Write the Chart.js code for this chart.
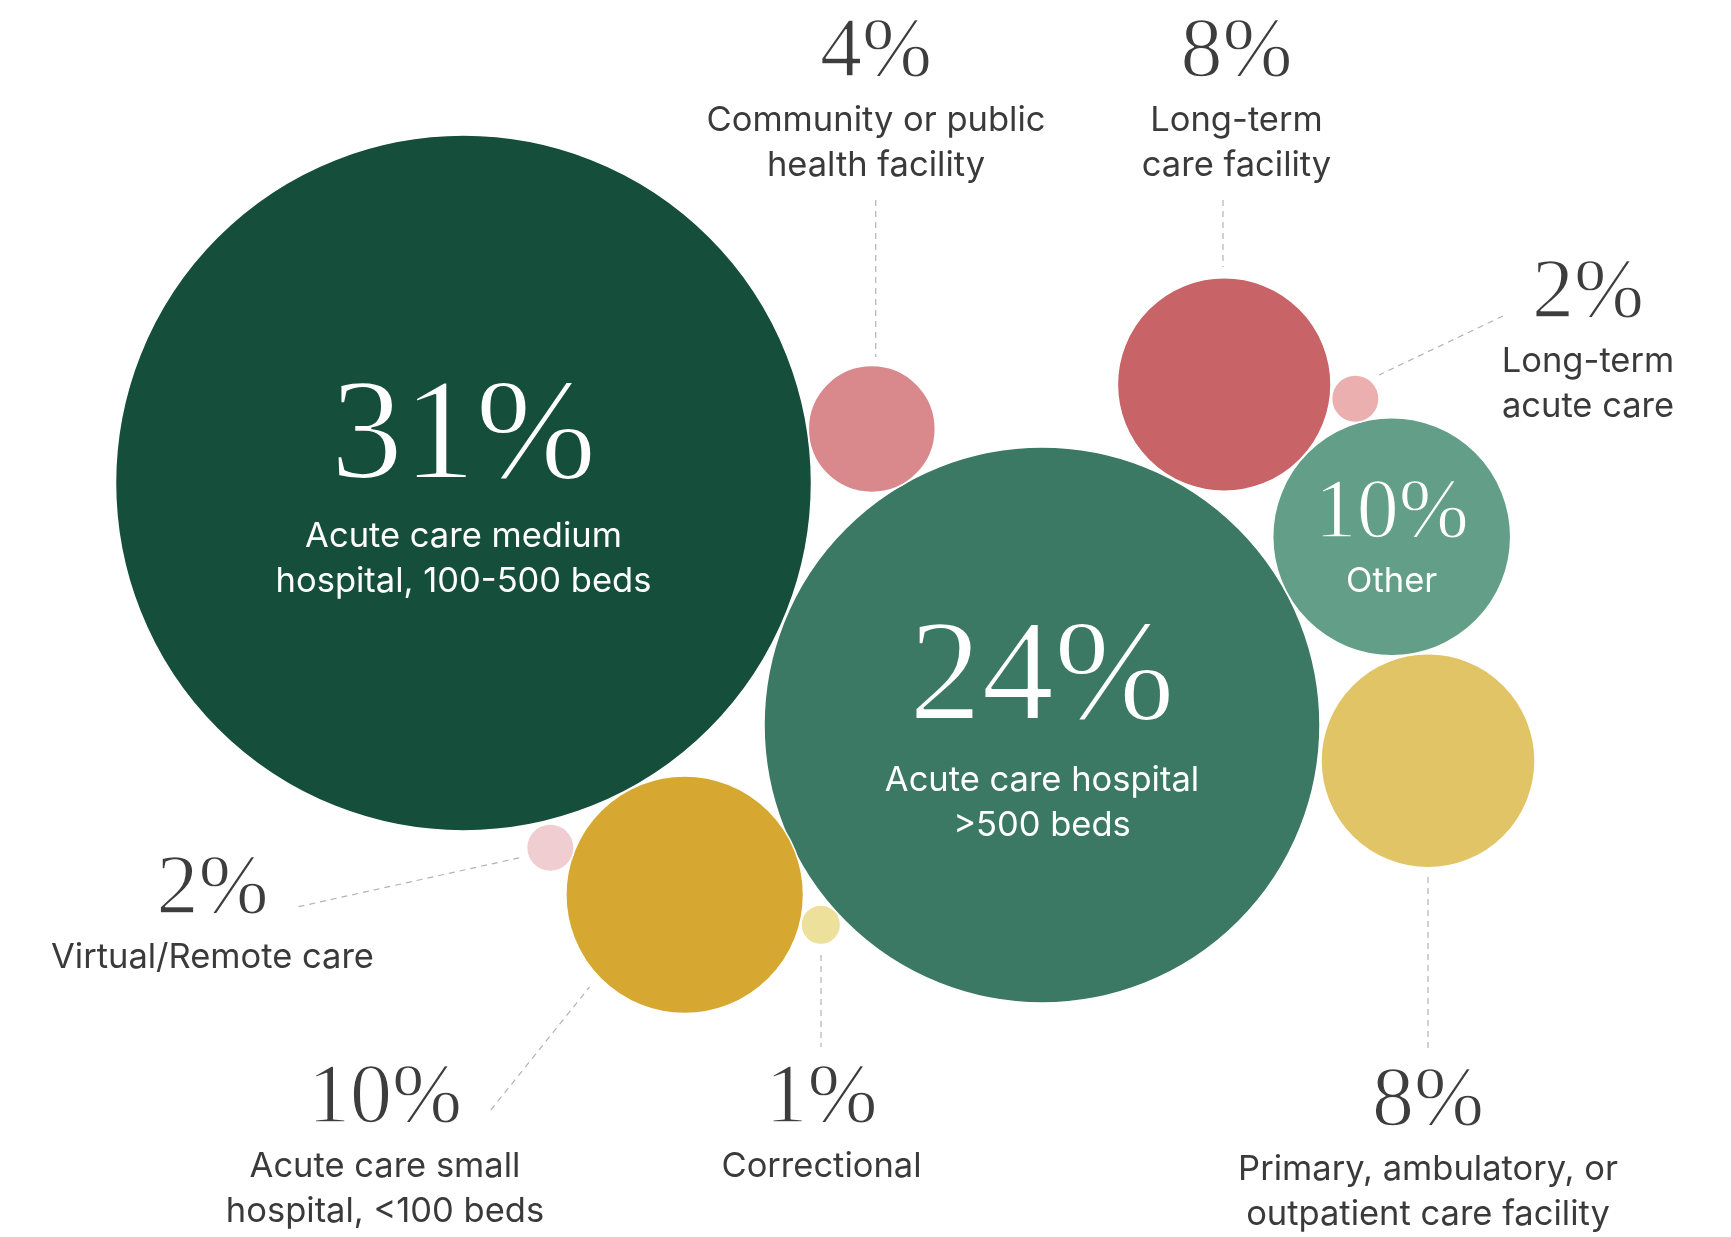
<!DOCTYPE html>
<html>
<head>
<meta charset="utf-8">
<script src="https://cdn.jsdelivr.net/npm/chart.js@4/dist/chart.umd.min.js"></script>
<style>
  html, body { margin: 0; padding: 0; background: #ffffff; }
  #wrap { width: 1731px; height: 1237px; position: relative; }
  canvas { display: block; }
</style>
</head>
<body>
<div id="wrap"><canvas id="c" width="1731" height="1237"></canvas></div>
<script>
// ---------- DATA ----------
const categories = [
  "Acute care medium hospital, 100-500 beds",
  "Acute care hospital >500 beds",
  "Other",
  "Acute care small hospital, <100 beds",
  "Long-term care facility",
  "Primary, ambulatory, or outpatient care facility",
  "Community or public health facility",
  "Long-term acute care",
  "Virtual/Remote care",
  "Correctional"
];
const percentValues = [31, 24, 10, 10, 8, 8, 4, 2, 2, 1];
const percentLabels = ["31%", "24%", "10%", "10%", "8%", "8%", "4%", "2%", "2%", "1%"];
const labelLines = [
  ["Acute care medium", "hospital, 100-500 beds"],
  ["Acute care hospital", ">500 beds"],
  ["Other"],
  ["Acute care small", "hospital, <100 beds"],
  ["Long-term", "care facility"],
  ["Primary, ambulatory, or", "outpatient care facility"],
  ["Community or public", "health facility"],
  ["Long-term", "acute care"],
  ["Virtual/Remote care"],
  ["Correctional"]
];

// ---------- LAYOUT (packed-bubble placement, in layout units) ----------
const bubbleX = [463.5, 1042, 1391.7, 684.7, 1224.2, 1428, 871.8, 1355.3, 550.3, 820.8];
const bubbleY = [483, 725, 536.7, 894.8, 384.5, 760.8, 429, 398.8, 847.7, 924.7];
const bubbleR = [348, 278, 119, 118.8, 106.8, 107, 63.5, 23.7, 23.7, 19.8];
const bubbleColors = ["#164e3c", "#3c7964", "#639f88", "#d6a832", "#c86468",
                      "#e1c466", "#d9888b", "#eaafae", "#f0cdd0", "#ede09a"];
// inside: label centred on bubble; outside: label at text anchor + dashed leader
const labelMode = ["in", "in", "in", "out", "out", "out", "out", "out", "out", "out"];
const labelAnchorX = [463.5, 1042, 1391.7, 385, 1236.5, 1428, 876, 1588, 212.5, 821.5];
const labelAnchorY = [478, 719, 536.7, 1121.7, 76, 1125, 76, 316.7, 912.7, 1121.7];
const labelGap = [69, 72, 55, 55, 55, 55, 55, 55, 55, 55];
const leaderFrom = [null, null, null, [490.8, 1110], [1223, 200], [1428, 877], [875.7, 200], [1503, 316], [298.5, 906.7], [821, 955]];
const leaderTo   = [null, null, null, [589.5, 987], [1223, 267], [1428, 1048], [875.7, 357], [1379, 375], [521.5, 857.3], [821, 1047]];

const SERIF = '"Liberation Serif", serif';
const SANS = 'Inter, "Open Sans", Roboto, sans-serif';

const labelPlugin = {
  id: 'bubbleLabels',
  afterDatasetsDraw(chart) {
    const ctx = chart.ctx;
    const xs = chart.scales.x, ys = chart.scales.y;
    ctx.save();
    // leader lines
    ctx.strokeStyle = '#b3b3b3';
    ctx.lineWidth = 1.2;
    ctx.setLineDash([6, 5]);
    for (let i = 0; i < categories.length; i++) {
      if (!leaderFrom[i]) continue;
      ctx.beginPath();
      ctx.moveTo(xs.getPixelForValue(leaderFrom[i][0]), ys.getPixelForValue(leaderFrom[i][1]));
      ctx.lineTo(xs.getPixelForValue(leaderTo[i][0]), ys.getPixelForValue(leaderTo[i][1]));
      ctx.stroke();
    }
    ctx.setLineDash([]);
    ctx.textAlign = 'center';
    ctx.textBaseline = 'alphabetic';
    for (let i = 0; i < categories.length; i++) {
      const inside = labelMode[i] === 'in';
      const big = inside && bubbleR[i] > 200;
      const px = xs.getPixelForValue(labelAnchorX[i]);
      const py = ys.getPixelForValue(labelAnchorY[i]);
      const bg = inside ? bubbleColors[i] : '#ffffff';
      ctx.fillStyle = inside ? '#ffffff' : '#3d3d3d';
      ctx.font = (big ? 145 : 84) + 'px ' + SERIF;
      ctx.fillText(percentLabels[i], px, py);
      // thin the serif strokes to mimic a light display face
      ctx.strokeStyle = bg;
      ctx.lineWidth = big ? 2.2 : 1.4;
      ctx.lineJoin = 'round';
      ctx.strokeText(percentLabels[i], px, py);
      ctx.fillStyle = inside ? '#ffffff' : '#3a3a3a';
      ctx.font = '34.5px ' + SANS;
      labelLines[i].forEach((line, k) => {
        ctx.fillText(line, px, py + labelGap[i] + k * 45);
      });
    }
    ctx.restore();
  }
};

new Chart(document.getElementById('c'), {
  type: 'bubble',
  data: {
    labels: categories,
    datasets: [{
      data: categories.map((c, i) => ({ x: bubbleX[i], y: bubbleY[i], r: bubbleR[i], v: percentValues[i] })),
      backgroundColor: bubbleColors,
      borderColor: '#ffffff',
      borderWidth: 1.5,
      hoverRadius: 0,
      clip: false
    }]
  },
  options: {
    responsive: false,
    animation: false,
    events: [],
    layout: { padding: 0, autoPadding: false },
    plugins: { legend: { display: false }, tooltip: { enabled: false } },
    scales: {
      x: { type: 'linear', min: 0, max: 1731, display: false, grace: 0 },
      y: { type: 'linear', min: 0, max: 1237, reverse: true, display: false, grace: 0 }
    }
  },
  plugins: [labelPlugin]
});
</script>
</body>
</html>
